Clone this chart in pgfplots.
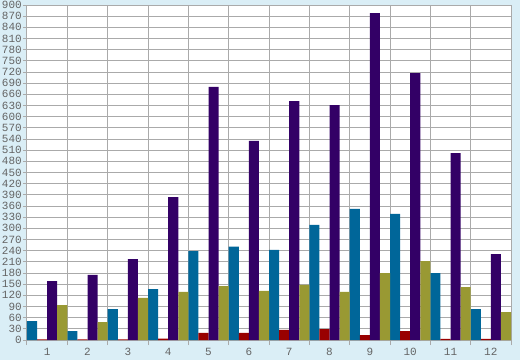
\documentclass[border=0pt]{standalone}
\usepackage{pgfplots}
\pgfplotsset{compat=1.18}
\usepackage{fontspec}
\setmainfont{Liberation Mono}
\definecolor{bg}{RGB}{218,238,246}
\definecolor{gridgray}{RGB}{170,170,170}
\definecolor{labelgray}{RGB}{100,100,100}
\definecolor{cblue}{RGB}{0,102,153}
\definecolor{cred}{RGB}{153,0,0}
\definecolor{cpurple}{RGB}{51,0,102}
\definecolor{colive}{RGB}{153,153,51}
\begin{document}
\begin{tikzpicture}[x=1pt,y=1pt]
\useasboundingbox (0,0) rectangle (520,360);
\fill[bg] (0,0) rectangle (520,360);
\begin{axis}[
  at={(27pt,20pt)}, anchor=south west,
  scale only axis, width=484pt, height=335pt,
  xmin=0.5, xmax=12.5, ymin=0, ymax=900,
  enlargelimits=false,
  ytick={0,30,...,900},
  xtick={1,...,12},
  minor xtick={0.5,1.5,...,12.5},
  xminorgrids, ymajorgrids,
  grid style={draw=gridgray, line width=1pt},
  minor grid style={draw=gridgray, line width=1pt},
  axis line style={draw=gridgray, line width=1pt},
  tick style={draw=gridgray, line width=1pt},
  major x tick style={draw=none},
  minor x tick style={draw=gridgray, line width=1pt},
  tick align=outside,
  major tick length=4pt, minor tick length=5pt,
  xtick pos=bottom, ytick pos=left,
  axis background/.style={fill=white},
  ybar=0pt, bar width=0.25,
  /pgf/number format/assume math mode=true,
  ticklabel style={font=\fontsize{11}{11}\selectfont, text=labelgray},
  y tick label style={inner sep=0pt, xshift=-1pt},
  x tick label style={inner sep=0pt, yshift=-4pt},
]
\addplot[fill=cblue, draw=none, bar shift=-0.375] coordinates {
(1,51) (2,24) (3,83) (4,137) (5,239) (6,251) (7,242) (8,309) (9,352) (10,339) (11,180) (12,83)};
\addplot[fill=cred, draw=none, bar shift=-0.125] coordinates {
(1,2) (2,2) (3,2) (4,4) (5,19) (6,19) (7,27) (8,29) (9,13) (10,24) (11,3) (12,3)};
\addplot[fill=cpurple, draw=none, bar shift=0.125] coordinates {
(1,158) (2,175) (3,217) (4,384) (5,680) (6,535) (7,642) (8,631) (9,878) (10,717) (11,502) (12,231)};
\addplot[fill=colive, draw=none, bar shift=0.375] coordinates {
(1,94) (2,48) (3,113) (4,129) (5,145) (6,132) (7,148) (8,129) (9,180) (10,212) (11,142) (12,75)};
\end{axis}
\end{tikzpicture}
\end{document}
